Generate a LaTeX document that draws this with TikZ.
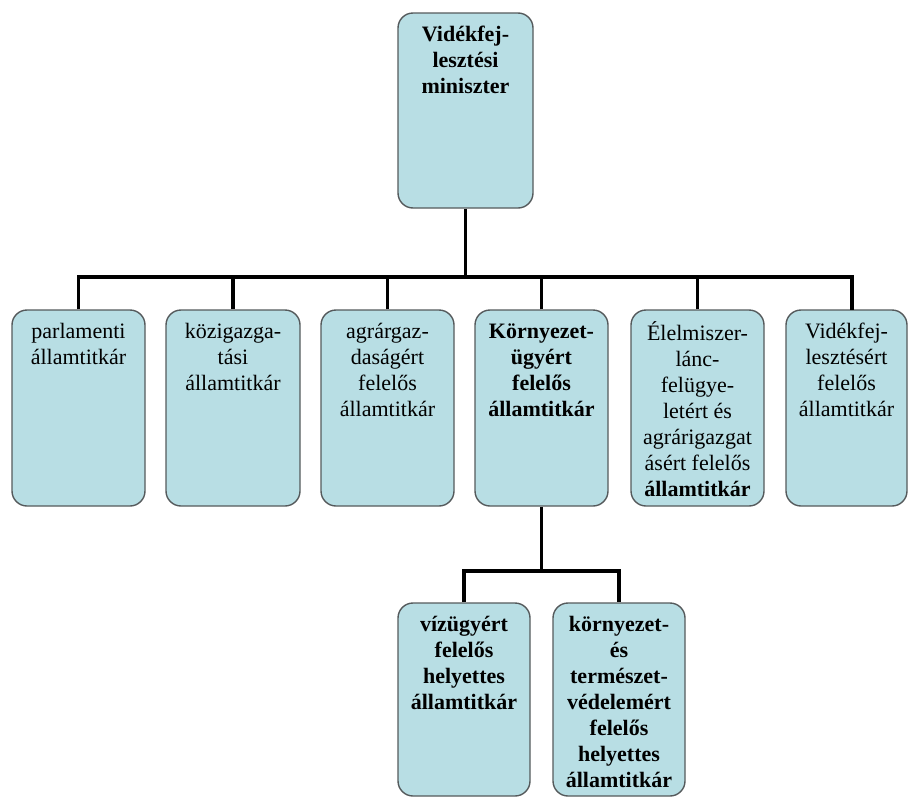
\documentclass[tikz,border=0pt]{standalone}
\usepackage{fontspec}
\setmainfont{Liberation Serif}
\newfontfamily\boxserif{Liberation Serif}
\definecolor{boxfill}{RGB}{184,222,228}
\definecolor{boxline}{RGB}{85,90,92}
\begin{document}
\begin{tikzpicture}[x=1pt,y=-1pt,
  orgbox/.style={draw=boxline, line width=1.4pt, fill=boxfill, rounded corners=15pt, inner sep=0pt},
  txt/.style={anchor=north, align=center, inner sep=0pt, font=\boxserif\fontsize{22}{26}\selectfont},
  btxt/.style={txt, font=\boxserif\fontsize{22}{26}\selectfont\bfseries},
  conn/.style={draw=black, line width=3.6pt}]
\useasboundingbox (0,0) rectangle (909,798);
% boxes
\node[orgbox, minimum width=135pt, minimum height=195pt] (top) at (465.5,110.5) {};
\node[orgbox, minimum width=133pt, minimum height=196pt] (b1) at (78.5,408) {};
\node[orgbox, minimum width=134pt, minimum height=196pt] (b2) at (233,408) {};
\node[orgbox, minimum width=133pt, minimum height=196pt] (b3) at (387.5,408) {};
\node[orgbox, minimum width=133pt, minimum height=196pt] (b4) at (541.5,408) {};
\node[orgbox, minimum width=133pt, minimum height=196pt] (b5) at (697.5,408) {};
\node[orgbox, minimum width=121pt, minimum height=196pt] (b6) at (846.5,408) {};
\node[orgbox, minimum width=132pt, minimum height=193pt] (bA) at (464,699.5) {};
\node[orgbox, minimum width=132pt, minimum height=193pt] (bB) at (619,699.5) {};
% texts
\node[btxt] (ttop) at ([yshift=-12pt]top.north) {\rule{0pt}{17pt}Vidékfej-\\lesztési\\miniszter};
\node[txt] (t1) at ([yshift=-12pt]b1.north) {\rule{0pt}{17pt}parlamenti\\államtitkár};
\node[txt] (t2) at ([yshift=-12pt]b2.north) {\rule{0pt}{17pt}közigazga-\\tási\\államtitkár};
\node[txt] (t3) at ([yshift=-12pt]b3.north) {\rule{0pt}{17pt}agrárgaz-\\daságért\\felelős\\államtitkár};
\node[btxt] (t4) at ([yshift=-12pt]b4.north) {\rule{0pt}{17pt}Környezet-\\ügyért\\felelős\\államtitkár};
\node[txt] (t5) at ([yshift=-12pt]b5.north) {\rule{0pt}{17pt}Élelmiszer-\\lánc-\\felügye-\\letért és\\agrárigazgat\\ásért felelős\\\textbf{államtitkár}};
\node[txt] (t6) at ([yshift=-12pt]b6.north) {\rule{0pt}{17pt}Vidékfej-\\lesztésért\\felelős\\államtitkár};
\node[btxt] (tA) at ([yshift=-12pt]bA.north) {\rule{0pt}{17pt}vízügyért\\felelős\\helyettes\\államtitkár};
\node[btxt] (tB) at ([yshift=-12pt]bB.north) {\rule{0pt}{17pt}környezet-\\és\\természet-\\védelemért\\felelős\\helyettes\\államtitkár};
% connectors
\coordinate (hbar) at (0,277);
\coordinate (hbarB) at (0,571);
\coordinate (b6c) at (852,310);
\draw[conn] (top.south) -- (top.south |- hbar);
\draw[conn] (b1.north) -- (b1.north |- hbar) -- (b6c |- hbar) -- (b6c);
\foreach \b in {b2,b3,b4,b5}{\draw[conn] (\b.north) -- (\b.north |- hbar);}
\draw[conn] (b4.south) -- (b4.south |- hbarB);
\draw[conn] (bA.north) -- (bA.north |- hbarB) -- (bB.north |- hbarB) -- (bB.north);
\end{tikzpicture}
\end{document}
